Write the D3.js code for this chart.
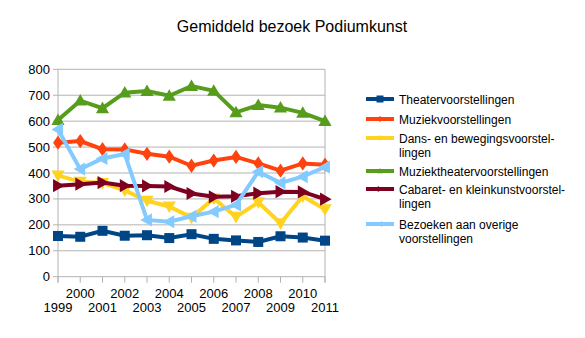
<!DOCTYPE html>
<html><head><meta charset="utf-8">
<script src="https://cdn.jsdelivr.net/npm/d3@7"></script>
<style>body{margin:0;background:#fff}svg{font-family:"Liberation Sans",Arial,sans-serif}</style>
</head><body>
<svg id="c" width="585" height="338"></svg>
<script>
const years = [1999,2000,2001,2002,2003,2004,2005,2006,2007,2008,2009,2010,2011];
const yTicks = [0,100,200,300,400,500,600,700,800];
const theater = [157,154,177,158,160,149,164,146,140,134,156,151,139];
const muziek = [517,523,492,491,474,463,428,448,462,437,409,437,432];
const dans = [391,366,362,333,293,271,228,302,231,287,206,310,260];
const muziektheater = [604,679,650,710,716,698,735,717,634,662,652,632,600];
const cabaret = [351,357,363,351,350,348,321,308,310,322,328,327,299];
const overige = [568,415,456,473,219,212,233,251,277,405,362,386,423];
const names = ["Theatervoorstellingen","Muziekvoorstellingen","Dans- en bewegingsvoorstel-|lingen","Muziektheatervoorstellingen","Cabaret- en kleinkunstvoorstel-|lingen","Bezoeken aan overige|voorstellingen"];
const colors = ["#004586","#ff420e","#ffd320","#579d1c","#7e0021","#83caff"];
const seriesData = [theater,muziek,dans,muziektheater,cabaret,overige];
const shapes = ["square","diamond","down","up","right","left"];

const svg = d3.select("#c");
const L=58, R=325, T=69.3, B=276.7;
const x = d3.scalePoint().domain(years).range([L,R]);
const y = d3.scaleLinear().domain([0,800]).range([B,T]);

svg.append("text").attr("x",292).attr("y",32).attr("text-anchor","middle")
  .attr("font-size",16).attr("fill","#000").text("Gemiddeld bezoek Podiumkunst");

const grid="#b3b3b3";
svg.append("g").selectAll("line").data(yTicks).join("line")
  .attr("x1",L-5).attr("x2",R).attr("y1",d=>y(d)).attr("y2",d=>y(d))
  .attr("stroke",grid).attr("stroke-width",1);
svg.append("line").attr("x1",L).attr("x2",L).attr("y1",T).attr("y2",B+6).attr("stroke",grid);
svg.append("line").attr("x1",R).attr("x2",R).attr("y1",T).attr("y2",B+6).attr("stroke",grid);
svg.append("g").selectAll("line").data(years).join("line")
  .attr("x1",d=>x(d)).attr("x2",d=>x(d)).attr("y1",B).attr("y2",B+6).attr("stroke",grid);
svg.append("g").selectAll("text").data(yTicks).join("text")
  .attr("x",L-8).attr("y",d=>y(d)+4.5).attr("text-anchor","end").attr("font-size",13).text(d=>d);
svg.append("g").selectAll("text").data(years).join("text")
  .attr("x",d=>x(d)).attr("y",(d,i)=> i%2 ? 297.5 : 311.5).attr("text-anchor","middle")
  .attr("font-size",13).text(d=>d);

function marker(g, shape, cx, cy, s, col){
  let p;
  if(shape==="square") return g.append("rect").attr("x",cx-s/2).attr("y",cy-s/2).attr("width",s).attr("height",s).attr("fill",col);
  if(shape==="diamond") p=[[cx,cy-s*0.65],[cx+s*0.45,cy],[cx,cy+s*0.65],[cx-s*0.45,cy]];
  if(shape==="up") p=[[cx,cy-s*0.6],[cx+s*0.6,cy+s*0.45],[cx-s*0.6,cy+s*0.45]];
  if(shape==="down") p=[[cx,cy+s*0.6],[cx+s*0.6,cy-s*0.45],[cx-s*0.6,cy-s*0.45]];
  if(shape==="right") p=[[cx+s*0.6,cy],[cx-s*0.45,cy-s*0.6],[cx-s*0.45,cy+s*0.6]];
  if(shape==="left") p=[[cx-s*0.6,cy],[cx+s*0.45,cy-s*0.6],[cx+s*0.45,cy+s*0.6]];
  return g.append("polygon").attr("points",p.map(q=>q.join(",")).join(" ")).attr("fill",col);
}

const line = d3.line().x((d,i)=>x(years[i])).y(d=>y(d));
seriesData.forEach((arr,k)=>{
  const g=svg.append("g");
  g.append("path").attr("d",line(arr)).attr("fill","none").attr("stroke",colors[k]).attr("stroke-width",4).attr("stroke-linejoin","miter");
  arr.forEach((v,i)=>marker(g,shapes[k],x(years[i]),y(v),k===0?10:11,colors[k]));
});

const rowY=[99,119,138,171,189,224];
names.forEach((n,k)=>{
  const g=svg.append("g");
  g.append("line").attr("x1",366).attr("x2",394).attr("y1",rowY[k]).attr("y2",rowY[k]).attr("stroke",colors[k]).attr("stroke-width",4);
  marker(g,shapes[k],380,rowY[k],k===0?7:5,colors[k]);
  n.split("|").forEach((t,j)=>{
    g.append("text").attr("x",399).attr("y",rowY[k]+4.5+j*14.5).attr("font-size",12).text(t);
  });
});
</script>
</body></html>
